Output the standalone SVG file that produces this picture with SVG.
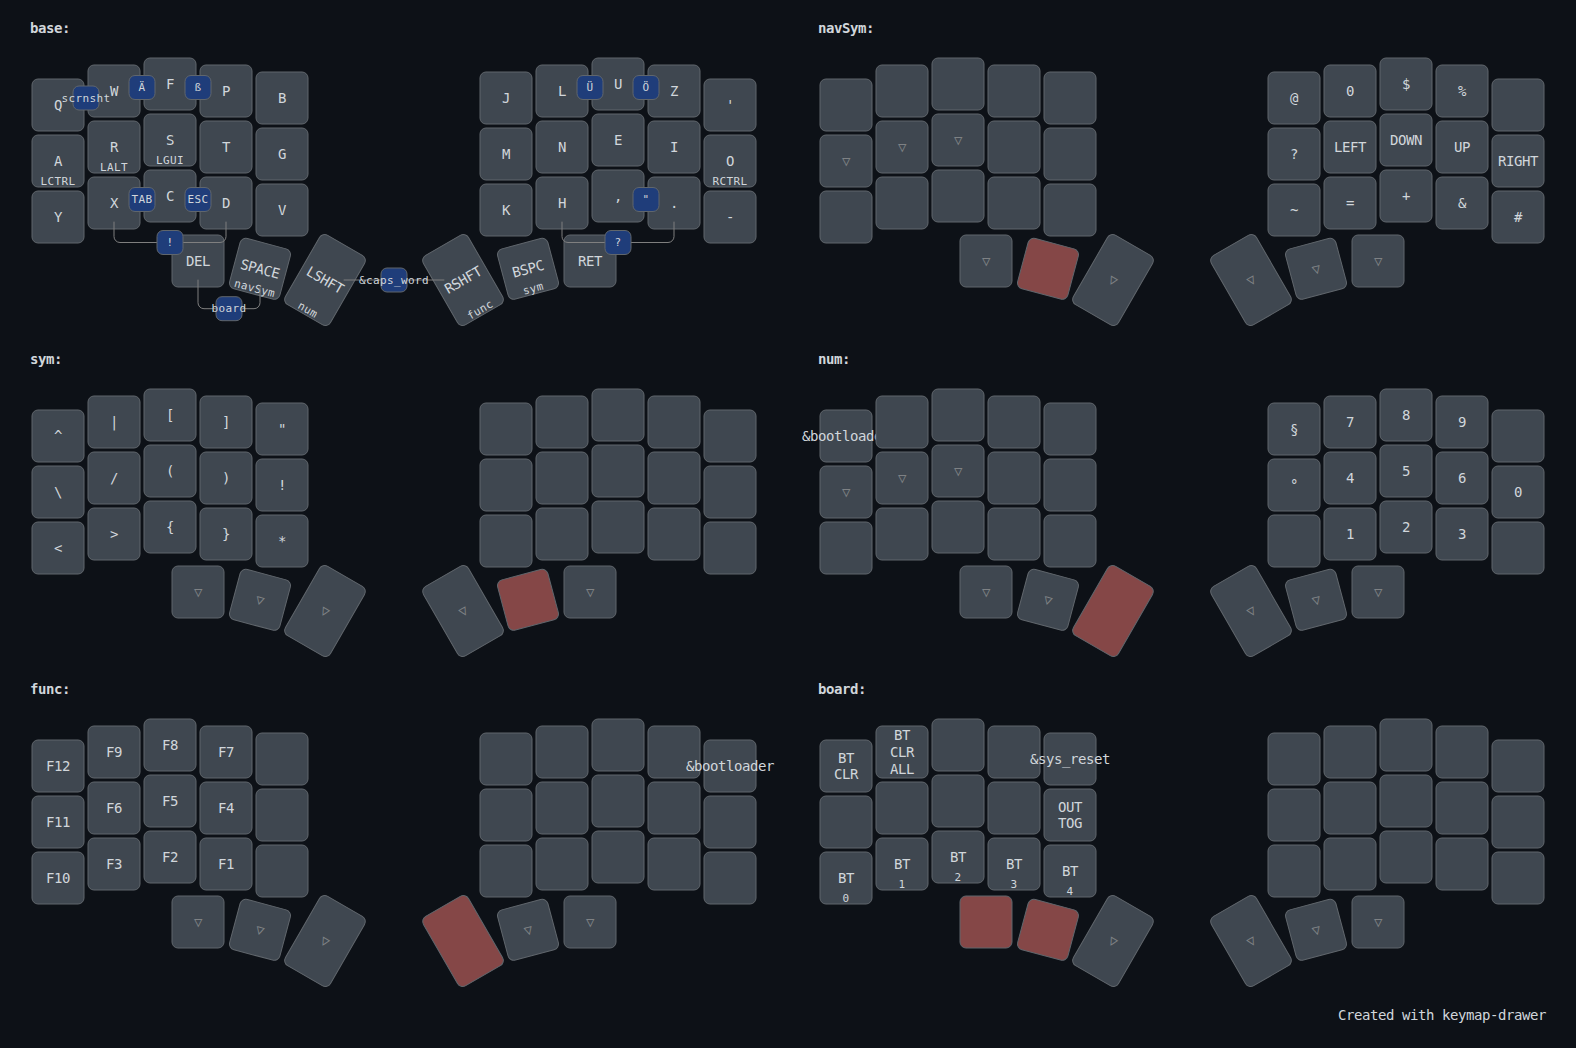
<svg xmlns="http://www.w3.org/2000/svg" width="1576" height="1048" viewBox="0 0 1576 1048">
<defs>
<style>
text{font-family:"DejaVu Sans Mono","Liberation Mono",monospace;font-size:14px;letter-spacing:-0.43px;text-anchor:middle;dominant-baseline:central;fill:#d1d6db}
text.label{text-anchor:start;font-weight:bold}
text.hold{font-size:11px;letter-spacing:0.38px;dominant-baseline:auto}
text.small{font-size:11px;letter-spacing:0.38px}
text.trans{fill:#7e8184}
text.foot{text-anchor:end}
rect.key{fill:#3f4750;stroke:#60666c;stroke-width:1}
rect.held{fill:#854747}
rect.combo{fill:#1f3d7a;stroke:#60666c;stroke-width:1}
path.combo{fill:none;stroke:#7f7f7f;stroke-width:1}
</style>
</defs>
<rect x="0" y="0" width="1576" height="1048" fill="#0d1117"/>

<!-- BASE -->
<g id="layer-base">
<text class="label" x="30" y="28">base:</text>
<g id="base-k0" transform="translate(58,105)"><rect class="key" x="-26" y="-26" width="52" height="52" rx="6"/><text>Q</text></g>
<g id="base-k1" transform="translate(114,91)"><rect class="key" x="-26" y="-26" width="52" height="52" rx="6"/><text>W</text></g>
<g id="base-k2" transform="translate(170,84)"><rect class="key" x="-26" y="-26" width="52" height="52" rx="6"/><text>F</text></g>
<g id="base-k3" transform="translate(226,91)"><rect class="key" x="-26" y="-26" width="52" height="52" rx="6"/><text>P</text></g>
<g id="base-k4" transform="translate(282,98)"><rect class="key" x="-26" y="-26" width="52" height="52" rx="6"/><text>B</text></g>
<g id="base-k5" transform="translate(506,98)"><rect class="key" x="-26" y="-26" width="52" height="52" rx="6"/><text>J</text></g>
<g id="base-k6" transform="translate(562,91)"><rect class="key" x="-26" y="-26" width="52" height="52" rx="6"/><text>L</text></g>
<g id="base-k7" transform="translate(618,84)"><rect class="key" x="-26" y="-26" width="52" height="52" rx="6"/><text>U</text></g>
<g id="base-k8" transform="translate(674,91)"><rect class="key" x="-26" y="-26" width="52" height="52" rx="6"/><text>Z</text></g>
<g id="base-k9" transform="translate(730,105)"><rect class="key" x="-26" y="-26" width="52" height="52" rx="6"/><text>'</text></g>
<g id="base-k10" transform="translate(58,161)"><rect class="key" x="-26" y="-26" width="52" height="52" rx="6"/><text>A</text><text class="hold" y="24">LCTRL</text></g>
<g id="base-k11" transform="translate(114,147)"><rect class="key" x="-26" y="-26" width="52" height="52" rx="6"/><text>R</text><text class="hold" y="24">LALT</text></g>
<g id="base-k12" transform="translate(170,140)"><rect class="key" x="-26" y="-26" width="52" height="52" rx="6"/><text>S</text><text class="hold" y="24">LGUI</text></g>
<g id="base-k13" transform="translate(226,147)"><rect class="key" x="-26" y="-26" width="52" height="52" rx="6"/><text>T</text></g>
<g id="base-k14" transform="translate(282,154)"><rect class="key" x="-26" y="-26" width="52" height="52" rx="6"/><text>G</text></g>
<g id="base-k15" transform="translate(506,154)"><rect class="key" x="-26" y="-26" width="52" height="52" rx="6"/><text>M</text></g>
<g id="base-k16" transform="translate(562,147)"><rect class="key" x="-26" y="-26" width="52" height="52" rx="6"/><text>N</text></g>
<g id="base-k17" transform="translate(618,140)"><rect class="key" x="-26" y="-26" width="52" height="52" rx="6"/><text>E</text></g>
<g id="base-k18" transform="translate(674,147)"><rect class="key" x="-26" y="-26" width="52" height="52" rx="6"/><text>I</text></g>
<g id="base-k19" transform="translate(730,161)"><rect class="key" x="-26" y="-26" width="52" height="52" rx="6"/><text>O</text><text class="hold" y="24">RCTRL</text></g>
<g id="base-k20" transform="translate(58,217)"><rect class="key" x="-26" y="-26" width="52" height="52" rx="6"/><text>Y</text></g>
<g id="base-k21" transform="translate(114,203)"><rect class="key" x="-26" y="-26" width="52" height="52" rx="6"/><text>X</text></g>
<g id="base-k22" transform="translate(170,196)"><rect class="key" x="-26" y="-26" width="52" height="52" rx="6"/><text>C</text></g>
<g id="base-k23" transform="translate(226,203)"><rect class="key" x="-26" y="-26" width="52" height="52" rx="6"/><text>D</text></g>
<g id="base-k24" transform="translate(282,210)"><rect class="key" x="-26" y="-26" width="52" height="52" rx="6"/><text>V</text></g>
<g id="base-k25" transform="translate(506,210)"><rect class="key" x="-26" y="-26" width="52" height="52" rx="6"/><text>K</text></g>
<g id="base-k26" transform="translate(562,203)"><rect class="key" x="-26" y="-26" width="52" height="52" rx="6"/><text>H</text></g>
<g id="base-k27" transform="translate(618,196)"><rect class="key" x="-26" y="-26" width="52" height="52" rx="6"/><text>,</text></g>
<g id="base-k28" transform="translate(674,203)"><rect class="key" x="-26" y="-26" width="52" height="52" rx="6"/><text>.</text></g>
<g id="base-k29" transform="translate(730,217)"><rect class="key" x="-26" y="-26" width="52" height="52" rx="6"/><text>-</text></g>
<g id="base-k30" transform="translate(198,261)"><rect class="key" x="-26" y="-26" width="52" height="52" rx="6"/><text>DEL</text></g>
<g id="base-k31" transform="translate(260,268.8) rotate(15)"><rect class="key" x="-26" y="-26" width="52" height="52" rx="6"/><text>SPACE</text><text class="hold" y="24">navSym</text></g>
<g id="base-k32" transform="translate(325,280) rotate(30)"><rect class="key" x="-26" y="-40" width="52" height="80" rx="6"/><text>LSHFT</text><text class="hold" y="38">num</text></g>
<g id="base-k33" transform="translate(463,280) rotate(-30)"><rect class="key" x="-26" y="-40" width="52" height="80" rx="6"/><text>RSHFT</text><text class="hold" y="38">func</text></g>
<g id="base-k34" transform="translate(528,268.8) rotate(-15)"><rect class="key" x="-26" y="-26" width="52" height="52" rx="6"/><text>BSPC</text><text class="hold" y="24">sym</text></g>
<g id="base-k35" transform="translate(590,261)"><rect class="key" x="-26" y="-26" width="52" height="52" rx="6"/><text>RET</text></g>
</g>

<g id="connectors">
<path class="combo" d="M114,221.67 V236.5 A6,6 0 0 0 120,242.5 H220 A6,6 0 0 0 226,236.5 V221.67"/>
<path class="combo" d="M562,221.67 V236.5 A6,6 0 0 0 568,242.5 H668 A6,6 0 0 0 674,236.5 V221.67"/>
<path class="combo" d="M198,279.67 V302.7 A6,6 0 0 0 204,308.7 H254 A6,6 0 0 0 260,302.7 V287.5"/>
<path class="combo" d="M343.67,280 H444.33"/>
</g>

<g id="combos">
<g id="combo-scrnsht" transform="translate(86,98)"><rect class="combo" x="-13" y="-12" width="26" height="24" rx="6"/><text class="small">scrnsht</text></g>
<g id="combo-ae" transform="translate(142,87.5)"><rect class="combo" x="-13" y="-12" width="26" height="24" rx="6"/><text class="small">Ä</text></g>
<g id="combo-ss" transform="translate(198,87.5)"><rect class="combo" x="-13" y="-12" width="26" height="24" rx="6"/><text class="small">ß</text></g>
<g id="combo-tab" transform="translate(142,199.5)"><rect class="combo" x="-13" y="-12" width="26" height="24" rx="6"/><text class="small">TAB</text></g>
<g id="combo-esc" transform="translate(198,199.5)"><rect class="combo" x="-13" y="-12" width="26" height="24" rx="6"/><text class="small">ESC</text></g>
<g id="combo-excl" transform="translate(170,242.5)"><rect class="combo" x="-13" y="-12" width="26" height="24" rx="6"/><text class="small">!</text></g>
<g id="combo-board" transform="translate(229,308.7)"><rect class="combo" x="-13" y="-12" width="26" height="24" rx="6"/><text class="small">board</text></g>
<g id="combo-caps" transform="translate(394,280)"><rect class="combo" x="-13" y="-12" width="26" height="24" rx="6"/><text class="small">&amp;caps_word</text></g>
<g id="combo-ue" transform="translate(590,87.5)"><rect class="combo" x="-13" y="-12" width="26" height="24" rx="6"/><text class="small">Ü</text></g>
<g id="combo-oe" transform="translate(646,87.5)"><rect class="combo" x="-13" y="-12" width="26" height="24" rx="6"/><text class="small">Ö</text></g>
<g id="combo-dquote" transform="translate(646,199.5)"><rect class="combo" x="-13" y="-12" width="26" height="24" rx="6"/><text class="small">"</text></g>
<g id="combo-quest" transform="translate(618,242.5)"><rect class="combo" x="-13" y="-12" width="26" height="24" rx="6"/><text class="small">?</text></g>
</g>

<!-- NAVSYM -->
<g id="layer-navSym" transform="translate(788,0)">
<text class="label" x="30" y="28">navSym:</text>
<g id="navSym-k0" transform="translate(58,105)"><rect class="key" x="-26" y="-26" width="52" height="52" rx="6"/></g>
<g id="navSym-k1" transform="translate(114,91)"><rect class="key" x="-26" y="-26" width="52" height="52" rx="6"/></g>
<g id="navSym-k2" transform="translate(170,84)"><rect class="key" x="-26" y="-26" width="52" height="52" rx="6"/></g>
<g id="navSym-k3" transform="translate(226,91)"><rect class="key" x="-26" y="-26" width="52" height="52" rx="6"/></g>
<g id="navSym-k4" transform="translate(282,98)"><rect class="key" x="-26" y="-26" width="52" height="52" rx="6"/></g>
<g id="navSym-k5" transform="translate(506,98)"><rect class="key" x="-26" y="-26" width="52" height="52" rx="6"/><text>@</text></g>
<g id="navSym-k6" transform="translate(562,91)"><rect class="key" x="-26" y="-26" width="52" height="52" rx="6"/><text>0</text></g>
<g id="navSym-k7" transform="translate(618,84)"><rect class="key" x="-26" y="-26" width="52" height="52" rx="6"/><text>$</text></g>
<g id="navSym-k8" transform="translate(674,91)"><rect class="key" x="-26" y="-26" width="52" height="52" rx="6"/><text>%</text></g>
<g id="navSym-k9" transform="translate(730,105)"><rect class="key" x="-26" y="-26" width="52" height="52" rx="6"/></g>
<g id="navSym-k10" transform="translate(58,161)"><rect class="key" x="-26" y="-26" width="52" height="52" rx="6"/><text class="trans">▽</text></g>
<g id="navSym-k11" transform="translate(114,147)"><rect class="key" x="-26" y="-26" width="52" height="52" rx="6"/><text class="trans">▽</text></g>
<g id="navSym-k12" transform="translate(170,140)"><rect class="key" x="-26" y="-26" width="52" height="52" rx="6"/><text class="trans">▽</text></g>
<g id="navSym-k13" transform="translate(226,147)"><rect class="key" x="-26" y="-26" width="52" height="52" rx="6"/></g>
<g id="navSym-k14" transform="translate(282,154)"><rect class="key" x="-26" y="-26" width="52" height="52" rx="6"/></g>
<g id="navSym-k15" transform="translate(506,154)"><rect class="key" x="-26" y="-26" width="52" height="52" rx="6"/><text>?</text></g>
<g id="navSym-k16" transform="translate(562,147)"><rect class="key" x="-26" y="-26" width="52" height="52" rx="6"/><text>LEFT</text></g>
<g id="navSym-k17" transform="translate(618,140)"><rect class="key" x="-26" y="-26" width="52" height="52" rx="6"/><text>DOWN</text></g>
<g id="navSym-k18" transform="translate(674,147)"><rect class="key" x="-26" y="-26" width="52" height="52" rx="6"/><text>UP</text></g>
<g id="navSym-k19" transform="translate(730,161)"><rect class="key" x="-26" y="-26" width="52" height="52" rx="6"/><text>RIGHT</text></g>
<g id="navSym-k20" transform="translate(58,217)"><rect class="key" x="-26" y="-26" width="52" height="52" rx="6"/></g>
<g id="navSym-k21" transform="translate(114,203)"><rect class="key" x="-26" y="-26" width="52" height="52" rx="6"/></g>
<g id="navSym-k22" transform="translate(170,196)"><rect class="key" x="-26" y="-26" width="52" height="52" rx="6"/></g>
<g id="navSym-k23" transform="translate(226,203)"><rect class="key" x="-26" y="-26" width="52" height="52" rx="6"/></g>
<g id="navSym-k24" transform="translate(282,210)"><rect class="key" x="-26" y="-26" width="52" height="52" rx="6"/></g>
<g id="navSym-k25" transform="translate(506,210)"><rect class="key" x="-26" y="-26" width="52" height="52" rx="6"/><text>~</text></g>
<g id="navSym-k26" transform="translate(562,203)"><rect class="key" x="-26" y="-26" width="52" height="52" rx="6"/><text>=</text></g>
<g id="navSym-k27" transform="translate(618,196)"><rect class="key" x="-26" y="-26" width="52" height="52" rx="6"/><text>+</text></g>
<g id="navSym-k28" transform="translate(674,203)"><rect class="key" x="-26" y="-26" width="52" height="52" rx="6"/><text>&amp;</text></g>
<g id="navSym-k29" transform="translate(730,217)"><rect class="key" x="-26" y="-26" width="52" height="52" rx="6"/><text>#</text></g>
<g id="navSym-k30" transform="translate(198,261)"><rect class="key" x="-26" y="-26" width="52" height="52" rx="6"/><text class="trans">▽</text></g>
<g id="navSym-k31" transform="translate(260,268.8) rotate(15)"><rect class="key held" x="-26" y="-26" width="52" height="52" rx="6"/></g>
<g id="navSym-k32" transform="translate(325,280) rotate(30)"><rect class="key" x="-26" y="-40" width="52" height="80" rx="6"/><text class="trans">▽</text></g>
<g id="navSym-k33" transform="translate(463,280) rotate(-30)"><rect class="key" x="-26" y="-40" width="52" height="80" rx="6"/><text class="trans">▽</text></g>
<g id="navSym-k34" transform="translate(528,268.8) rotate(-15)"><rect class="key" x="-26" y="-26" width="52" height="52" rx="6"/><text class="trans">▽</text></g>
<g id="navSym-k35" transform="translate(590,261)"><rect class="key" x="-26" y="-26" width="52" height="52" rx="6"/><text class="trans">▽</text></g>
</g>

<!-- SYM -->
<g id="layer-sym" transform="translate(0,331)">
<text class="label" x="30" y="28">sym:</text>
<g id="sym-k0" transform="translate(58,105)"><rect class="key" x="-26" y="-26" width="52" height="52" rx="6"/><text>^</text></g>
<g id="sym-k1" transform="translate(114,91)"><rect class="key" x="-26" y="-26" width="52" height="52" rx="6"/><text>|</text></g>
<g id="sym-k2" transform="translate(170,84)"><rect class="key" x="-26" y="-26" width="52" height="52" rx="6"/><text>[</text></g>
<g id="sym-k3" transform="translate(226,91)"><rect class="key" x="-26" y="-26" width="52" height="52" rx="6"/><text>]</text></g>
<g id="sym-k4" transform="translate(282,98)"><rect class="key" x="-26" y="-26" width="52" height="52" rx="6"/><text>"</text></g>
<g id="sym-k5" transform="translate(506,98)"><rect class="key" x="-26" y="-26" width="52" height="52" rx="6"/></g>
<g id="sym-k6" transform="translate(562,91)"><rect class="key" x="-26" y="-26" width="52" height="52" rx="6"/></g>
<g id="sym-k7" transform="translate(618,84)"><rect class="key" x="-26" y="-26" width="52" height="52" rx="6"/></g>
<g id="sym-k8" transform="translate(674,91)"><rect class="key" x="-26" y="-26" width="52" height="52" rx="6"/></g>
<g id="sym-k9" transform="translate(730,105)"><rect class="key" x="-26" y="-26" width="52" height="52" rx="6"/></g>
<g id="sym-k10" transform="translate(58,161)"><rect class="key" x="-26" y="-26" width="52" height="52" rx="6"/><text>\</text></g>
<g id="sym-k11" transform="translate(114,147)"><rect class="key" x="-26" y="-26" width="52" height="52" rx="6"/><text>/</text></g>
<g id="sym-k12" transform="translate(170,140)"><rect class="key" x="-26" y="-26" width="52" height="52" rx="6"/><text>(</text></g>
<g id="sym-k13" transform="translate(226,147)"><rect class="key" x="-26" y="-26" width="52" height="52" rx="6"/><text>)</text></g>
<g id="sym-k14" transform="translate(282,154)"><rect class="key" x="-26" y="-26" width="52" height="52" rx="6"/><text>!</text></g>
<g id="sym-k15" transform="translate(506,154)"><rect class="key" x="-26" y="-26" width="52" height="52" rx="6"/></g>
<g id="sym-k16" transform="translate(562,147)"><rect class="key" x="-26" y="-26" width="52" height="52" rx="6"/></g>
<g id="sym-k17" transform="translate(618,140)"><rect class="key" x="-26" y="-26" width="52" height="52" rx="6"/></g>
<g id="sym-k18" transform="translate(674,147)"><rect class="key" x="-26" y="-26" width="52" height="52" rx="6"/></g>
<g id="sym-k19" transform="translate(730,161)"><rect class="key" x="-26" y="-26" width="52" height="52" rx="6"/></g>
<g id="sym-k20" transform="translate(58,217)"><rect class="key" x="-26" y="-26" width="52" height="52" rx="6"/><text>&lt;</text></g>
<g id="sym-k21" transform="translate(114,203)"><rect class="key" x="-26" y="-26" width="52" height="52" rx="6"/><text>&gt;</text></g>
<g id="sym-k22" transform="translate(170,196)"><rect class="key" x="-26" y="-26" width="52" height="52" rx="6"/><text>{</text></g>
<g id="sym-k23" transform="translate(226,203)"><rect class="key" x="-26" y="-26" width="52" height="52" rx="6"/><text>}</text></g>
<g id="sym-k24" transform="translate(282,210)"><rect class="key" x="-26" y="-26" width="52" height="52" rx="6"/><text>*</text></g>
<g id="sym-k25" transform="translate(506,210)"><rect class="key" x="-26" y="-26" width="52" height="52" rx="6"/></g>
<g id="sym-k26" transform="translate(562,203)"><rect class="key" x="-26" y="-26" width="52" height="52" rx="6"/></g>
<g id="sym-k27" transform="translate(618,196)"><rect class="key" x="-26" y="-26" width="52" height="52" rx="6"/></g>
<g id="sym-k28" transform="translate(674,203)"><rect class="key" x="-26" y="-26" width="52" height="52" rx="6"/></g>
<g id="sym-k29" transform="translate(730,217)"><rect class="key" x="-26" y="-26" width="52" height="52" rx="6"/></g>
<g id="sym-k30" transform="translate(198,261)"><rect class="key" x="-26" y="-26" width="52" height="52" rx="6"/><text class="trans">▽</text></g>
<g id="sym-k31" transform="translate(260,268.8) rotate(15)"><rect class="key" x="-26" y="-26" width="52" height="52" rx="6"/><text class="trans">▽</text></g>
<g id="sym-k32" transform="translate(325,280) rotate(30)"><rect class="key" x="-26" y="-40" width="52" height="80" rx="6"/><text class="trans">▽</text></g>
<g id="sym-k33" transform="translate(463,280) rotate(-30)"><rect class="key" x="-26" y="-40" width="52" height="80" rx="6"/><text class="trans">▽</text></g>
<g id="sym-k34" transform="translate(528,268.8) rotate(-15)"><rect class="key held" x="-26" y="-26" width="52" height="52" rx="6"/></g>
<g id="sym-k35" transform="translate(590,261)"><rect class="key" x="-26" y="-26" width="52" height="52" rx="6"/><text class="trans">▽</text></g>
</g>

<!-- NUM -->
<g id="layer-num" transform="translate(788,331)">
<text class="label" x="30" y="28">num:</text>
<g id="num-k0" transform="translate(58,105)"><rect class="key" x="-26" y="-26" width="52" height="52" rx="6"/><text>&amp;bootloader</text></g>
<g id="num-k1" transform="translate(114,91)"><rect class="key" x="-26" y="-26" width="52" height="52" rx="6"/></g>
<g id="num-k2" transform="translate(170,84)"><rect class="key" x="-26" y="-26" width="52" height="52" rx="6"/></g>
<g id="num-k3" transform="translate(226,91)"><rect class="key" x="-26" y="-26" width="52" height="52" rx="6"/></g>
<g id="num-k4" transform="translate(282,98)"><rect class="key" x="-26" y="-26" width="52" height="52" rx="6"/></g>
<g id="num-k5" transform="translate(506,98)"><rect class="key" x="-26" y="-26" width="52" height="52" rx="6"/><text>§</text></g>
<g id="num-k6" transform="translate(562,91)"><rect class="key" x="-26" y="-26" width="52" height="52" rx="6"/><text>7</text></g>
<g id="num-k7" transform="translate(618,84)"><rect class="key" x="-26" y="-26" width="52" height="52" rx="6"/><text>8</text></g>
<g id="num-k8" transform="translate(674,91)"><rect class="key" x="-26" y="-26" width="52" height="52" rx="6"/><text>9</text></g>
<g id="num-k9" transform="translate(730,105)"><rect class="key" x="-26" y="-26" width="52" height="52" rx="6"/></g>
<g id="num-k10" transform="translate(58,161)"><rect class="key" x="-26" y="-26" width="52" height="52" rx="6"/><text class="trans">▽</text></g>
<g id="num-k11" transform="translate(114,147)"><rect class="key" x="-26" y="-26" width="52" height="52" rx="6"/><text class="trans">▽</text></g>
<g id="num-k12" transform="translate(170,140)"><rect class="key" x="-26" y="-26" width="52" height="52" rx="6"/><text class="trans">▽</text></g>
<g id="num-k13" transform="translate(226,147)"><rect class="key" x="-26" y="-26" width="52" height="52" rx="6"/></g>
<g id="num-k14" transform="translate(282,154)"><rect class="key" x="-26" y="-26" width="52" height="52" rx="6"/></g>
<g id="num-k15" transform="translate(506,154)"><rect class="key" x="-26" y="-26" width="52" height="52" rx="6"/><text>°</text></g>
<g id="num-k16" transform="translate(562,147)"><rect class="key" x="-26" y="-26" width="52" height="52" rx="6"/><text>4</text></g>
<g id="num-k17" transform="translate(618,140)"><rect class="key" x="-26" y="-26" width="52" height="52" rx="6"/><text>5</text></g>
<g id="num-k18" transform="translate(674,147)"><rect class="key" x="-26" y="-26" width="52" height="52" rx="6"/><text>6</text></g>
<g id="num-k19" transform="translate(730,161)"><rect class="key" x="-26" y="-26" width="52" height="52" rx="6"/><text>0</text></g>
<g id="num-k20" transform="translate(58,217)"><rect class="key" x="-26" y="-26" width="52" height="52" rx="6"/></g>
<g id="num-k21" transform="translate(114,203)"><rect class="key" x="-26" y="-26" width="52" height="52" rx="6"/></g>
<g id="num-k22" transform="translate(170,196)"><rect class="key" x="-26" y="-26" width="52" height="52" rx="6"/></g>
<g id="num-k23" transform="translate(226,203)"><rect class="key" x="-26" y="-26" width="52" height="52" rx="6"/></g>
<g id="num-k24" transform="translate(282,210)"><rect class="key" x="-26" y="-26" width="52" height="52" rx="6"/></g>
<g id="num-k25" transform="translate(506,210)"><rect class="key" x="-26" y="-26" width="52" height="52" rx="6"/></g>
<g id="num-k26" transform="translate(562,203)"><rect class="key" x="-26" y="-26" width="52" height="52" rx="6"/><text>1</text></g>
<g id="num-k27" transform="translate(618,196)"><rect class="key" x="-26" y="-26" width="52" height="52" rx="6"/><text>2</text></g>
<g id="num-k28" transform="translate(674,203)"><rect class="key" x="-26" y="-26" width="52" height="52" rx="6"/><text>3</text></g>
<g id="num-k29" transform="translate(730,217)"><rect class="key" x="-26" y="-26" width="52" height="52" rx="6"/></g>
<g id="num-k30" transform="translate(198,261)"><rect class="key" x="-26" y="-26" width="52" height="52" rx="6"/><text class="trans">▽</text></g>
<g id="num-k31" transform="translate(260,268.8) rotate(15)"><rect class="key" x="-26" y="-26" width="52" height="52" rx="6"/><text class="trans">▽</text></g>
<g id="num-k32" transform="translate(325,280) rotate(30)"><rect class="key held" x="-26" y="-40" width="52" height="80" rx="6"/></g>
<g id="num-k33" transform="translate(463,280) rotate(-30)"><rect class="key" x="-26" y="-40" width="52" height="80" rx="6"/><text class="trans">▽</text></g>
<g id="num-k34" transform="translate(528,268.8) rotate(-15)"><rect class="key" x="-26" y="-26" width="52" height="52" rx="6"/><text class="trans">▽</text></g>
<g id="num-k35" transform="translate(590,261)"><rect class="key" x="-26" y="-26" width="52" height="52" rx="6"/><text class="trans">▽</text></g>
</g>

<!-- FUNC -->
<g id="layer-func" transform="translate(0,661)">
<text class="label" x="30" y="28">func:</text>
<g id="func-k0" transform="translate(58,105)"><rect class="key" x="-26" y="-26" width="52" height="52" rx="6"/><text>F12</text></g>
<g id="func-k1" transform="translate(114,91)"><rect class="key" x="-26" y="-26" width="52" height="52" rx="6"/><text>F9</text></g>
<g id="func-k2" transform="translate(170,84)"><rect class="key" x="-26" y="-26" width="52" height="52" rx="6"/><text>F8</text></g>
<g id="func-k3" transform="translate(226,91)"><rect class="key" x="-26" y="-26" width="52" height="52" rx="6"/><text>F7</text></g>
<g id="func-k4" transform="translate(282,98)"><rect class="key" x="-26" y="-26" width="52" height="52" rx="6"/></g>
<g id="func-k5" transform="translate(506,98)"><rect class="key" x="-26" y="-26" width="52" height="52" rx="6"/></g>
<g id="func-k6" transform="translate(562,91)"><rect class="key" x="-26" y="-26" width="52" height="52" rx="6"/></g>
<g id="func-k7" transform="translate(618,84)"><rect class="key" x="-26" y="-26" width="52" height="52" rx="6"/></g>
<g id="func-k8" transform="translate(674,91)"><rect class="key" x="-26" y="-26" width="52" height="52" rx="6"/></g>
<g id="func-k9" transform="translate(730,105)"><rect class="key" x="-26" y="-26" width="52" height="52" rx="6"/><text>&amp;bootloader</text></g>
<g id="func-k10" transform="translate(58,161)"><rect class="key" x="-26" y="-26" width="52" height="52" rx="6"/><text>F11</text></g>
<g id="func-k11" transform="translate(114,147)"><rect class="key" x="-26" y="-26" width="52" height="52" rx="6"/><text>F6</text></g>
<g id="func-k12" transform="translate(170,140)"><rect class="key" x="-26" y="-26" width="52" height="52" rx="6"/><text>F5</text></g>
<g id="func-k13" transform="translate(226,147)"><rect class="key" x="-26" y="-26" width="52" height="52" rx="6"/><text>F4</text></g>
<g id="func-k14" transform="translate(282,154)"><rect class="key" x="-26" y="-26" width="52" height="52" rx="6"/></g>
<g id="func-k15" transform="translate(506,154)"><rect class="key" x="-26" y="-26" width="52" height="52" rx="6"/></g>
<g id="func-k16" transform="translate(562,147)"><rect class="key" x="-26" y="-26" width="52" height="52" rx="6"/></g>
<g id="func-k17" transform="translate(618,140)"><rect class="key" x="-26" y="-26" width="52" height="52" rx="6"/></g>
<g id="func-k18" transform="translate(674,147)"><rect class="key" x="-26" y="-26" width="52" height="52" rx="6"/></g>
<g id="func-k19" transform="translate(730,161)"><rect class="key" x="-26" y="-26" width="52" height="52" rx="6"/></g>
<g id="func-k20" transform="translate(58,217)"><rect class="key" x="-26" y="-26" width="52" height="52" rx="6"/><text>F10</text></g>
<g id="func-k21" transform="translate(114,203)"><rect class="key" x="-26" y="-26" width="52" height="52" rx="6"/><text>F3</text></g>
<g id="func-k22" transform="translate(170,196)"><rect class="key" x="-26" y="-26" width="52" height="52" rx="6"/><text>F2</text></g>
<g id="func-k23" transform="translate(226,203)"><rect class="key" x="-26" y="-26" width="52" height="52" rx="6"/><text>F1</text></g>
<g id="func-k24" transform="translate(282,210)"><rect class="key" x="-26" y="-26" width="52" height="52" rx="6"/></g>
<g id="func-k25" transform="translate(506,210)"><rect class="key" x="-26" y="-26" width="52" height="52" rx="6"/></g>
<g id="func-k26" transform="translate(562,203)"><rect class="key" x="-26" y="-26" width="52" height="52" rx="6"/></g>
<g id="func-k27" transform="translate(618,196)"><rect class="key" x="-26" y="-26" width="52" height="52" rx="6"/></g>
<g id="func-k28" transform="translate(674,203)"><rect class="key" x="-26" y="-26" width="52" height="52" rx="6"/></g>
<g id="func-k29" transform="translate(730,217)"><rect class="key" x="-26" y="-26" width="52" height="52" rx="6"/></g>
<g id="func-k30" transform="translate(198,261)"><rect class="key" x="-26" y="-26" width="52" height="52" rx="6"/><text class="trans">▽</text></g>
<g id="func-k31" transform="translate(260,268.8) rotate(15)"><rect class="key" x="-26" y="-26" width="52" height="52" rx="6"/><text class="trans">▽</text></g>
<g id="func-k32" transform="translate(325,280) rotate(30)"><rect class="key" x="-26" y="-40" width="52" height="80" rx="6"/><text class="trans">▽</text></g>
<g id="func-k33" transform="translate(463,280) rotate(-30)"><rect class="key held" x="-26" y="-40" width="52" height="80" rx="6"/></g>
<g id="func-k34" transform="translate(528,268.8) rotate(-15)"><rect class="key" x="-26" y="-26" width="52" height="52" rx="6"/><text class="trans">▽</text></g>
<g id="func-k35" transform="translate(590,261)"><rect class="key" x="-26" y="-26" width="52" height="52" rx="6"/><text class="trans">▽</text></g>
</g>

<!-- BOARD -->
<g id="layer-board" transform="translate(788,661)">
<text class="label" x="30" y="28">board:</text>
<g id="board-k0" transform="translate(58,105)"><rect class="key" x="-26" y="-26" width="52" height="52" rx="6"/><text><tspan x="0" dy="-0.6em">BT</tspan><tspan x="0" dy="1.2em">CLR</tspan></text></g>
<g id="board-k1" transform="translate(114,91)"><rect class="key" x="-26" y="-26" width="52" height="52" rx="6"/><text><tspan x="0" dy="-1.2em">BT</tspan><tspan x="0" dy="1.2em">CLR</tspan><tspan x="0" dy="1.2em">ALL</tspan></text></g>
<g id="board-k2" transform="translate(170,84)"><rect class="key" x="-26" y="-26" width="52" height="52" rx="6"/></g>
<g id="board-k3" transform="translate(226,91)"><rect class="key" x="-26" y="-26" width="52" height="52" rx="6"/></g>
<g id="board-k4" transform="translate(282,98)"><rect class="key" x="-26" y="-26" width="52" height="52" rx="6"/><text>&amp;sys_reset</text></g>
<g id="board-k5" transform="translate(506,98)"><rect class="key" x="-26" y="-26" width="52" height="52" rx="6"/></g>
<g id="board-k6" transform="translate(562,91)"><rect class="key" x="-26" y="-26" width="52" height="52" rx="6"/></g>
<g id="board-k7" transform="translate(618,84)"><rect class="key" x="-26" y="-26" width="52" height="52" rx="6"/></g>
<g id="board-k8" transform="translate(674,91)"><rect class="key" x="-26" y="-26" width="52" height="52" rx="6"/></g>
<g id="board-k9" transform="translate(730,105)"><rect class="key" x="-26" y="-26" width="52" height="52" rx="6"/></g>
<g id="board-k10" transform="translate(58,161)"><rect class="key" x="-26" y="-26" width="52" height="52" rx="6"/></g>
<g id="board-k11" transform="translate(114,147)"><rect class="key" x="-26" y="-26" width="52" height="52" rx="6"/></g>
<g id="board-k12" transform="translate(170,140)"><rect class="key" x="-26" y="-26" width="52" height="52" rx="6"/></g>
<g id="board-k13" transform="translate(226,147)"><rect class="key" x="-26" y="-26" width="52" height="52" rx="6"/></g>
<g id="board-k14" transform="translate(282,154)"><rect class="key" x="-26" y="-26" width="52" height="52" rx="6"/><text><tspan x="0" dy="-0.6em">OUT</tspan><tspan x="0" dy="1.2em">TOG</tspan></text></g>
<g id="board-k15" transform="translate(506,154)"><rect class="key" x="-26" y="-26" width="52" height="52" rx="6"/></g>
<g id="board-k16" transform="translate(562,147)"><rect class="key" x="-26" y="-26" width="52" height="52" rx="6"/></g>
<g id="board-k17" transform="translate(618,140)"><rect class="key" x="-26" y="-26" width="52" height="52" rx="6"/></g>
<g id="board-k18" transform="translate(674,147)"><rect class="key" x="-26" y="-26" width="52" height="52" rx="6"/></g>
<g id="board-k19" transform="translate(730,161)"><rect class="key" x="-26" y="-26" width="52" height="52" rx="6"/></g>
<g id="board-k20" transform="translate(58,217)"><rect class="key" x="-26" y="-26" width="52" height="52" rx="6"/><text>BT</text><text class="hold" y="24">0</text></g>
<g id="board-k21" transform="translate(114,203)"><rect class="key" x="-26" y="-26" width="52" height="52" rx="6"/><text>BT</text><text class="hold" y="24">1</text></g>
<g id="board-k22" transform="translate(170,196)"><rect class="key" x="-26" y="-26" width="52" height="52" rx="6"/><text>BT</text><text class="hold" y="24">2</text></g>
<g id="board-k23" transform="translate(226,203)"><rect class="key" x="-26" y="-26" width="52" height="52" rx="6"/><text>BT</text><text class="hold" y="24">3</text></g>
<g id="board-k24" transform="translate(282,210)"><rect class="key" x="-26" y="-26" width="52" height="52" rx="6"/><text>BT</text><text class="hold" y="24">4</text></g>
<g id="board-k25" transform="translate(506,210)"><rect class="key" x="-26" y="-26" width="52" height="52" rx="6"/></g>
<g id="board-k26" transform="translate(562,203)"><rect class="key" x="-26" y="-26" width="52" height="52" rx="6"/></g>
<g id="board-k27" transform="translate(618,196)"><rect class="key" x="-26" y="-26" width="52" height="52" rx="6"/></g>
<g id="board-k28" transform="translate(674,203)"><rect class="key" x="-26" y="-26" width="52" height="52" rx="6"/></g>
<g id="board-k29" transform="translate(730,217)"><rect class="key" x="-26" y="-26" width="52" height="52" rx="6"/></g>
<g id="board-k30" transform="translate(198,261)"><rect class="key held" x="-26" y="-26" width="52" height="52" rx="6"/></g>
<g id="board-k31" transform="translate(260,268.8) rotate(15)"><rect class="key held" x="-26" y="-26" width="52" height="52" rx="6"/></g>
<g id="board-k32" transform="translate(325,280) rotate(30)"><rect class="key" x="-26" y="-40" width="52" height="80" rx="6"/><text class="trans">▽</text></g>
<g id="board-k33" transform="translate(463,280) rotate(-30)"><rect class="key" x="-26" y="-40" width="52" height="80" rx="6"/><text class="trans">▽</text></g>
<g id="board-k34" transform="translate(528,268.8) rotate(-15)"><rect class="key" x="-26" y="-26" width="52" height="52" rx="6"/><text class="trans">▽</text></g>
<g id="board-k35" transform="translate(590,261)"><rect class="key" x="-26" y="-26" width="52" height="52" rx="6"/><text class="trans">▽</text></g>
</g>

<text class="foot" x="1546" y="1015">Created with keymap-drawer</text>
</svg>
